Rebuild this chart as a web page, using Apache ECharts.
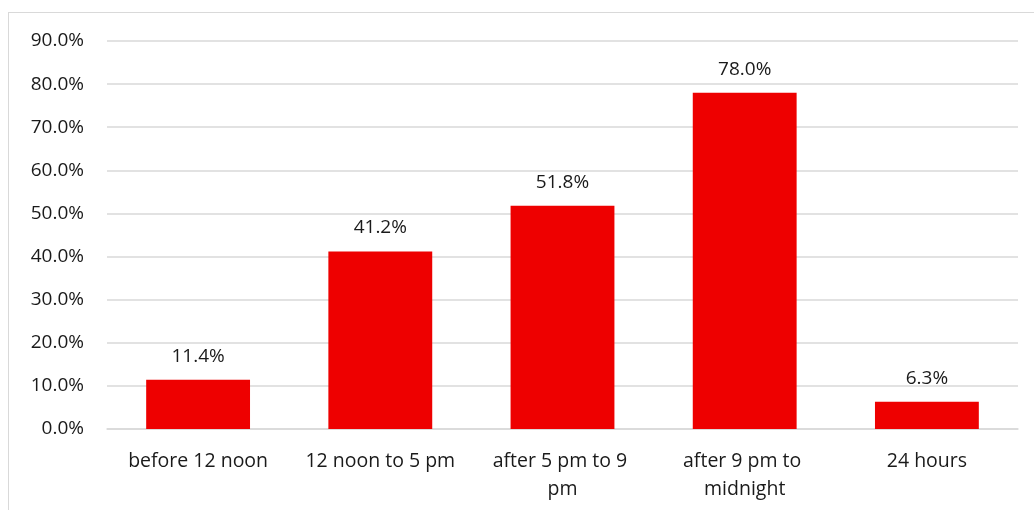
<!DOCTYPE html>
<html>
<head>
<meta charset="utf-8">
<script src="https://cdn.jsdelivr.net/npm/echarts@6/dist/echarts.min.js"></script>
<style>
  html, body { margin: 0; padding: 0; background: #fff; }
  #frame { position: absolute; left: 8px; top: 12px; width: 1040px; height: 510px; border: 1px solid #d9d9d9; box-sizing: border-box; }
  #chart { position: absolute; left: 0; top: 0; width: 1034px; height: 510px; }
</style>
</head>
<body>
<div id="frame"></div>
<div id="chart"></div>
<script>
// Share of respondents by time window
const categories = ['before 12 noon', '12 noon to 5 pm', 'after 5 pm to 9 pm', 'after 9 pm to midnight', '24 hours'];
const shares = [11.4, 41.2, 51.8, 78.0, 6.3];
const yTicks = [0, 10, 20, 30, 40, 50, 60, 70, 80, 90];

const FONT = '"Open Sans", "Liberation Sans", sans-serif';
const chart = echarts.init(document.getElementById('chart'), null, { renderer: 'canvas' });

chart.setOption({
  animation: false,
  backgroundColor: 'transparent',
  grid: { left: 107, right: 16, top: 41, bottom: 81, containLabel: false },
  xAxis: {
    type: 'category',
    data: categories,
    axisLine: { show: true, lineStyle: { color: '#d9d9d9', width: 1.5 } },
    axisTick: { show: false },
    axisLabel: {
      color: '#1a1a1a', fontFamily: FONT, fontSize: 19.5, margin: 18,
      width: 162, overflow: 'break', lineHeight: 28, interval: 0
    }
  },
  yAxis: {
    type: 'value',
    min: yTicks[0],
    max: yTicks[yTicks.length - 1],
    interval: 10,
    axisLine: { show: false },
    axisTick: { show: false },
    splitLine: { lineStyle: { color: '#d9d9d9', width: 1.5 } },
    axisLabel: {
      color: '#1a1a1a', fontFamily: FONT, fontSize: 19, margin: 23,
      formatter: v => v.toFixed(1) + '%'
    }
  },
  series: [{
    type: 'bar',
    data: shares,
    barCategoryGap: '43%',
    itemStyle: { color: '#ee0000' },
    label: {
      show: true, position: 'top', distance: 14,
      color: '#1a1a1a', fontFamily: FONT, fontSize: 19,
      formatter: p => p.value.toFixed(1) + '%'
    }
  }]
});
</script>
</body>
</html>
